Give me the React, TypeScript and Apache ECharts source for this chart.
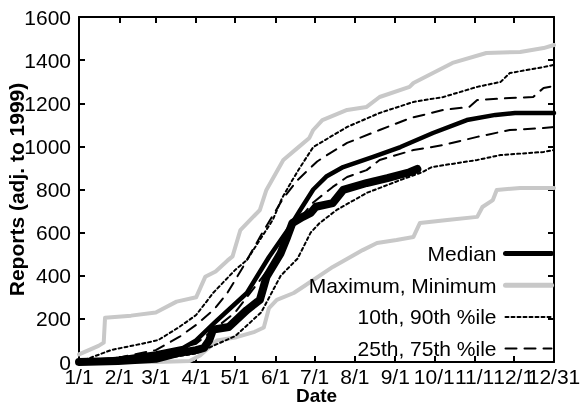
import React, { useEffect, useRef } from 'react';
import * as echarts from 'echarts';

// Day-of-year positions of the month ticks (1/1 = day 0, 12/31 = end of axis)
const tickDays = [0, 31, 59, 90, 120, 151, 181, 212, 243, 273, 304, 334, 365];
const tickLabels = ['1/1', '2/1', '3/1', '4/1', '5/1', '6/1', '7/1', '8/1', '9/1', '10/1', '11/1', '12/1', '12/31'];

const legendNames = ['Median', 'Maximum, Minimum', '10th, 90th %ile', '25th, 75th %ile'];

// [day, reports]
const maxData = [[0, 35], [15, 75], [19, 90], [20, 205], [40, 215], [59, 230], [75, 280], [90, 300], [97, 395], [105, 420], [114, 470], [118, 490], [124, 612], [139, 705], [144, 798], [157, 937], [168, 993], [177, 1039], [180, 1076], [187, 1122], [206, 1169], [221, 1183], [231, 1229], [254, 1276], [257, 1294], [272, 1340], [287, 1387], [313, 1433], [339, 1438], [357, 1456], [365, 1470]];
const minData = [[0, 0], [60, 0], [85, 5], [93, 30], [106, 100], [121, 115], [135, 140], [142, 160], [146, 250], [152, 288], [165, 320], [172, 348], [195, 441], [218, 519], [229, 552], [244, 566], [257, 580], [262, 645], [283, 659], [306, 673], [310, 719], [318, 751], [321, 798], [339, 807], [365, 807]];
const medianData = [[0, 0], [31, 15], [59, 40], [80, 65], [90, 100], [104, 181], [129, 320], [146, 487], [162, 626], [170, 705], [180, 800], [190, 860], [203, 904], [226, 951], [247, 997], [272, 1062], [298, 1122], [320, 1146], [335, 1155], [365, 1155]];
const currentData = [[0, 0], [30, 5], [59, 15], [75, 40], [90, 55], [96, 65], [100, 100], [103, 150], [115, 162], [129, 241], [139, 288], [144, 394], [155, 505], [160, 580], [164, 645], [172, 673], [178, 691], [182, 720], [195, 737], [203, 798], [221, 830], [237, 853], [254, 880], [260, 895]];
const p90Data = [[0, 0], [25, 56], [51, 88], [61, 102], [77, 162], [90, 218], [99, 288], [103, 320], [120, 427], [129, 473], [149, 660], [156, 760], [164, 844], [170, 904], [180, 997], [206, 1090], [231, 1155], [257, 1206], [280, 1229], [306, 1276], [324, 1299], [331, 1340], [357, 1368], [365, 1378]];
const p75Data = [[0, 0], [30, 20], [59, 55], [77, 116], [90, 172], [104, 245], [114, 320], [125, 430], [141, 600], [157, 760], [168, 844], [183, 930], [193, 969], [206, 1016], [231, 1076], [254, 1130], [280, 1169], [300, 1183], [306, 1215], [331, 1224], [349, 1229], [357, 1271], [365, 1280]];
const p25Data = [[0, 0], [59, 30], [90, 85], [120, 230], [152, 480], [166, 640], [180, 740], [195, 812], [206, 858], [221, 890], [231, 937], [257, 983], [280, 1006], [306, 1044], [331, 1076], [357, 1085], [365, 1090]];
const p10Data = [[0, 0], [59, 10], [90, 40], [120, 120], [140, 230], [155, 400], [168, 480], [178, 600], [185, 645], [198, 705], [221, 784], [247, 844], [264, 881], [271, 904], [306, 937], [324, 960], [357, 974], [365, 983]];

const FONT = 'Liberation Sans, Arial, Helvetica, sans-serif';

export default function App() {
  const ref = useRef<HTMLDivElement>(null);
  useEffect(() => {
    if (!ref.current) return;
    const chart = echarts.init(ref.current, undefined, { renderer: 'svg' });
    const labelFor = (v: number) => {
      const i = tickDays.indexOf(Math.round(v));
      return i >= 0 ? tickLabels[i] : '';
    };
    // Labels are split over two bottom axes so that neighbouring labels may overlap as in the original
    const evenDays = tickDays.filter((_, i) => i % 2 === 0);
    const oddDays = tickDays.filter((_, i) => i % 2 === 1);
    const gray = '#c8c8c8';
    const line = (name: string, data: number[][], color: string, width: number, type: any, z = 2) => ({
      type: 'line',
      name,
      data,
      symbol: 'none',
      z,
      xAxisIndex: 0,
      yAxisIndex: 0,
      lineStyle: { color, width, type, cap: 'round', join: 'round' },
      itemStyle: { color },
    });
    const axisLine = { show: true, onZero: false, lineStyle: { color: '#000', width: 2 } };
    const tick = { show: true, inside: true, length: 6, lineStyle: { color: '#000', width: 2 } };
    const xLabel = { formatter: labelFor, fontSize: 21, color: '#000', margin: 4, hideOverlap: false, showMaxLabel: true, showMinLabel: true, fontFamily: FONT };
    chart.setOption({
      animation: false,
      textStyle: { fontFamily: FONT },
      grid: { left: 79, right: 27, top: 17, bottom: 44, containLabel: false, outerBoundsMode: 'none' },
      legend: {
        data: [
          { name: legendNames[0], lineStyle: { width: 5 } },
          { name: legendNames[1], lineStyle: { width: 5 } },
          { name: legendNames[2], lineStyle: { width: 2 } },
          { name: legendNames[3], lineStyle: { width: 2 } },
        ],
        orient: 'vertical',
        align: 'right',
        right: 27,
        top: 243,
        padding: 0,
        itemGap: 10.7,
        itemWidth: 46,
        itemHeight: 14,
        itemStyle: { opacity: 0 },
        textStyle: { fontSize: 21, color: '#000', fontFamily: FONT, padding: [0, 4, 0, 0] },
      },
      xAxis: [
        {
          type: 'value',
          min: 0,
          max: 365,
          name: 'Date',
          nameLocation: 'middle',
          nameGap: 24,
          nameMoveOverlap: false,
          nameTextStyle: { fontSize: 19, fontWeight: 'bold', color: '#000', fontFamily: FONT },
          axisLine,
          axisTick: { ...tick, customValues: tickDays },
          axisLabel: { ...xLabel, customValues: evenDays },
          splitLine: { show: false },
        },
        {
          type: 'value',
          position: 'top',
          min: 0,
          max: 365,
          axisLine,
          axisTick: { ...tick, customValues: tickDays },
          axisLabel: { show: false },
          splitLine: { show: false },
        },
        {
          type: 'value',
          position: 'bottom',
          min: 0,
          max: 365,
          axisLine: { show: false, onZero: false },
          axisTick: { show: false },
          axisLabel: { ...xLabel, customValues: oddDays },
          splitLine: { show: false },
        },
      ],
      yAxis: [
        {
          type: 'value',
          min: 0,
          max: 1600,
          interval: 200,
          name: 'Reports (adj. to 1999)',
          nameLocation: 'middle',
          nameGap: 52,
          nameMoveOverlap: false,
          nameTextStyle: { fontSize: 21, fontWeight: 'bold', color: '#000', fontFamily: FONT },
          axisLine,
          axisTick: tick,
          axisLabel: { fontSize: 21, color: '#000', margin: 8, fontFamily: FONT, formatter: (v: number) => String(v) },
          splitLine: { show: false },
        },
        {
          type: 'value',
          position: 'right',
          min: 0,
          max: 1600,
          interval: 200,
          axisLine,
          axisTick: tick,
          axisLabel: { show: false },
          splitLine: { show: false },
        },
      ],
      series: [
        line('Maximum, Minimum', maxData, gray, 4, 'solid', 1),
        line('Maximum, Minimum', minData, gray, 4, 'solid', 1),
        line('10th, 90th %ile', p90Data, '#000', 2, [3, 3]),
        line('10th, 90th %ile', p10Data, '#000', 2, [3, 3]),
        line('25th, 75th %ile', p75Data, '#000', 2, [11, 8]),
        line('25th, 75th %ile', p25Data, '#000', 2, [11, 8]),
        line('Median', medianData, '#000', 4.5, 'solid', 3),
        line('Current year', currentData, '#000', 8, 'solid', 4),
      ],
    });
    return () => chart.dispose();
  }, []);
  return <div ref={ref} style={{ position: 'fixed', left: 0, top: 0, width: 581, height: 406 }} />;
}
